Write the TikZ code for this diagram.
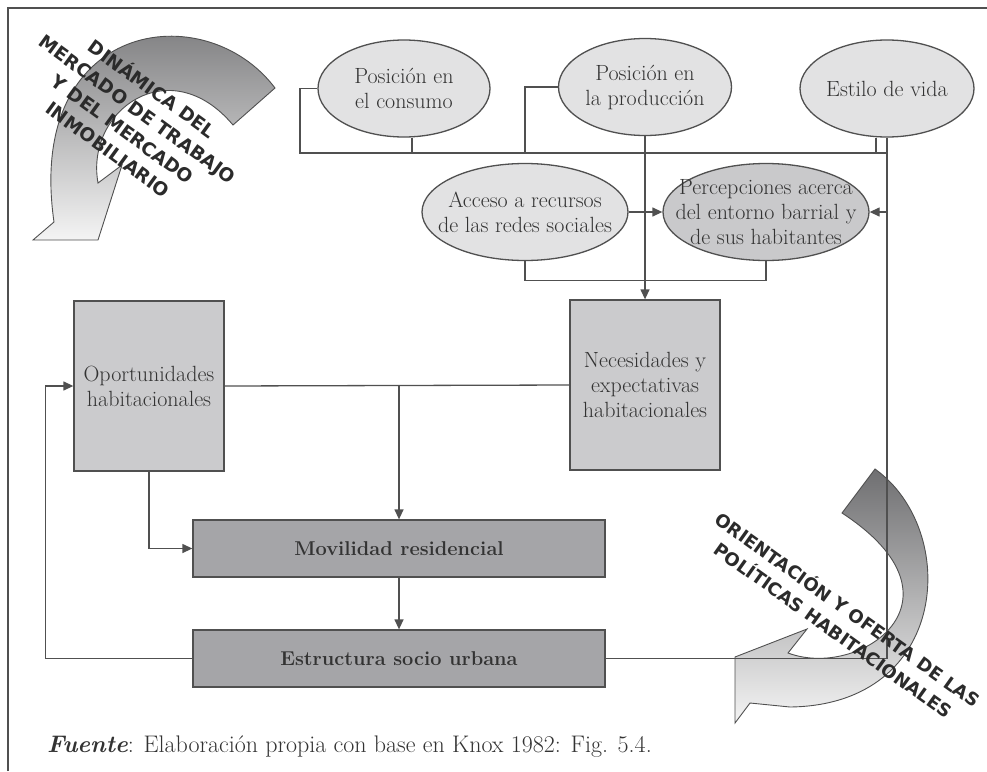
\documentclass[tikz,border=0pt]{standalone}
\usepackage{fontspec}
\newfontfamily\capsfont{DejaVu Sans}
\usetikzlibrary{arrows.meta,shapes.geometric}
\definecolor{ink}{HTML}{333333}
\definecolor{capsink}{HTML}{2B2B2B}
\definecolor{wire}{HTML}{505050}
\definecolor{ovalfill}{HTML}{E2E2E3}
\definecolor{ovaldark}{HTML}{C9C9CB}
\definecolor{boxfill}{HTML}{CBCBCD}
\definecolor{boxdark}{HTML}{A5A5A8}
\definecolor{shadetop}{HTML}{6F6F71}
\definecolor{shadebot}{HTML}{F4F4F4}
\begin{document}
\begin{tikzpicture}[x=1pt,y=-1pt,
    wire/.style={draw=wire,line width=1.3pt},
    arr/.style={wire,-{Triangle[length=10pt,width=9pt]}},
    oval/.style={ellipse,draw=wire,line width=1.3pt,fill=ovalfill,inner sep=0pt,minimum height=97pt},
    otext/.style={align=center,text=ink,font=\fontsize{22}{25}\selectfont,inner sep=0pt},
    lbox/.style={rectangle,draw=wire,line width=1.3pt,fill=boxfill,minimum width=150pt,minimum height=170pt,
        align=center,text=ink,font=\fontsize{22}{25}\selectfont},
    dbox/.style={rectangle,draw=wire,line width=1.3pt,fill=boxdark,minimum width=412pt,minimum height=57pt,
        text=ink,font=\fontsize{20}{25}\selectfont\bfseries},
    bigarrow/.style={draw=wire,line width=0.9pt,top color=shadetop,bottom color=shadebot},
    caps/.style={align=center,text=capsink,font=\capsfont\bfseries\fontsize{18.5}{25}\selectfont,inner sep=0pt}]
    \useasboundingbox (0,0) rectangle (987,771);
    % frame
    \draw[wire,line width=1.5pt] (8,771) -- (8,8) -- (987,8);
    % curved arrows
    \path[bigarrow] (275,88) .. controls (205,-5) and (25,20) .. (54,222) -- (33,240) -- (98,240)
        -- (122,165) -- (98,183) .. controls (85,110) and (170,50) .. (233,125) -- cycle;
    \path[bigarrow] (875,469) .. controls (960,530) and (950,705) .. (790,707) -- (750,703) -- (735,723)
        -- (735,657) -- (807,629) -- (788,653) .. controls (860,680) and (975,600) .. (842,513) -- cycle;
    % ovals
    \node[oval,minimum width=172pt] (cons) at (404,88.5) {};
    \node[otext] at (cons) {Posición en\\el consumo};
    \node[oval,minimum width=173pt] (prod) at (645,87) {};
    \node[otext] at (prod) {Posición en\\la producción};
    \node[oval,minimum width=174pt] (vida) at (887,88.5) {};
    \node[otext] at (vida) {Estilo de vida};
    \node[oval,minimum width=206pt] (redes) at (525,212) {};
    \node[otext] at (redes) {Acceso a recursos\\de las redes sociales};
    \node[oval,minimum width=206pt,fill=ovaldark] (perc) at (766,212) {};
    \node[otext] at (perc) {Percepciones acerca\\del entorno barrial y\\de sus habitantes};
    % boxes
    \node[lbox] (oport) at (149,386) {Oportunidades\\habitacionales};
    \node[lbox] (neces) at (645,385) {Necesidades y\\expectativas\\habitacionales};
    \node[dbox] (movil) at (399,548.5) {Movilidad residencial};
    \node[dbox] (estru) at (399,658.5) {Estructura socio urbana};
    % connectors
    \coordinate (busL) at (300,153);
    \coordinate (busP) at (525,153);
    \draw[wire] (cons.west) -| (busL) -- (busL -| vida.south);
    \draw[wire] ([xshift=8pt]cons.south) -- ([xshift=8pt]cons.south |- busL);
    \draw[wire] (prod.west) -| (busP);
    \draw[wire] ([xshift=-11pt]vida.south) -- ([xshift=-11pt]vida.south |- busL);
    \draw[wire] (vida.south) |- (estru.east);
    \draw[arr] (vida.south |- perc.east) -- (perc.east);
    \draw[arr] (prod.south) -- (neces.north);
    \draw[arr] (redes.east) -- (perc.west);
    \draw[wire] (redes.south) -- ++(0,19.5) -| (perc.south);
    \draw[wire] (oport.east) -- (neces.west);
    \draw[arr] (oport.east -| movil.north) -- (movil.north);
    \draw[arr] (oport.south) |- (movil.west);
    \draw[arr] (movil.south) -- (estru.north);
    \draw[arr] (estru.west) -- ++(-147,0) |- (oport.west);
    % slanted captions
    \node[caps,rotate=-36] (dinam) at (131,118) {DINÁMICA DEL\\MERCADO DE TRABAJO\\Y DEL MERCADO\\INMOBILIARIO};
    \node[caps,rotate=-35.5,font=\capsfont\bfseries\fontsize{18}{25}\selectfont] (orien) at (841,619)
        {ORIENTACIÓN Y OFERTA DE LAS\\POLÍTICAS HABITACIONALES};
    \node[anchor=west,text=ink,font=\fontsize{24}{25}\selectfont,inner sep=0pt] (fuente) at (47,747)
        {\textbf{\textit{Fuente}}: Elaboración propia con base en Knox 1982: Fig. 5.4.};
\end{tikzpicture}
\end{document}
